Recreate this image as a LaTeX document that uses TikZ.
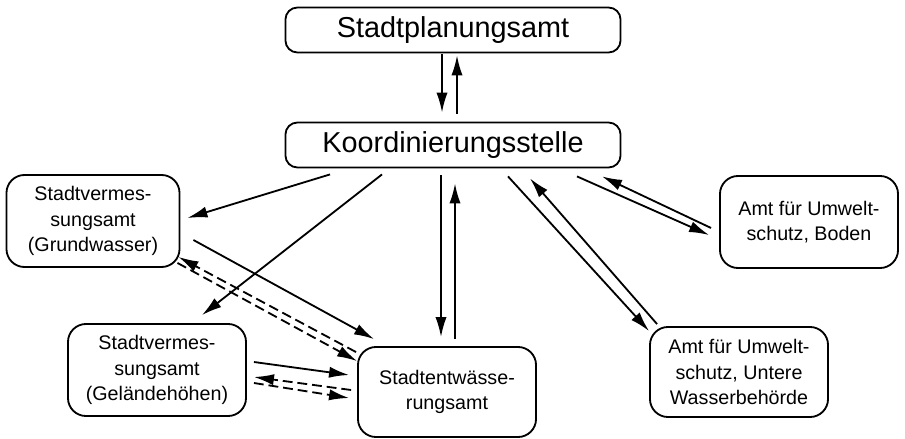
\documentclass[tikz,border=0pt]{standalone}
\usepackage{fontspec}
\setmainfont{Liberation Sans}
\usetikzlibrary{arrows.meta,calc}
\begin{document}
\begin{tikzpicture}[x=0.025cm,y=-0.025cm,>={Latex[length=0.5cm,width=0.28cm]},line width=1.3pt,
		bigbox/.style={draw,rounded corners=0.3cm,minimum width=8.375cm,minimum height=1.125cm,font=\fontsize{20.5}{24}\selectfont},
		smallbox/.style={draw,rounded corners=0.45cm,minimum width=4.45cm,minimum height=2.3cm,align=center,font=\fontsize{14}{18}\selectfont},
		dashline/.style={dash pattern=on 7pt off 3.5pt}]
		\useasboundingbox (0,0) rectangle (905,439);
		\node[bigbox] (plan) at (453,30) {Stadtplanungsamt};
		\node[bigbox] (koord) at (453,145) {Koordinierungsstelle};
		\node[smallbox,minimum width=4.325cm] (grund) at (93,221) {Stadtvermes-\\sungsamt\\(Grundwasser)};
		\node[smallbox] (gelaende) at (157,370) {Stadtvermes-\\sungsamt\\(Geländehöhen)};
		\node[smallbox,minimum height=2.25cm] (entw) at (447,392) {Stadtentwässe-\\rungsamt};
		\node[smallbox] (boden) at (809,222) {Amt für Umwelt-\\schutz, Boden};
		\node[smallbox,minimum height=2.25cm] (wasser) at (739,372) {Amt für Umwelt-\\schutz, Untere\\Wasserbehörde};
		% Stadtplanungsamt <-> Koordinierungsstelle
		\draw[->] ($(plan.south)+(-11,1)$) -- ($(koord.north)+(-11,-9)$);
		\draw[->] ($(koord.north)+(4,-8)$) -- ($(plan.south)+(4,2)$);
		% Koordinierungsstelle -> Aemter
		\draw[->] ($(koord.south)+(-123,6)$) -- ($(grund.east)+(7,-3)$);
		\draw[->] ($(koord.south)+(-71,6)$) -- ($(gelaende.north)+(45,-8)$);
		\draw[->] ($(koord.south)+(-12,7)$) -- ($(entw.north)+(-6,-9)$);
		\draw[->] ($(entw.north)+(8,-7)$) -- ($(koord.south)+(2,15)$);
		\draw[->] ($(koord.south)+(124,8)$) -- ($(boden.west)+(-10,13)$);
		\draw[->] ($(boden.west)+(-8,6)$) -- ($(koord.south)+(149,8)$);
		\draw[->] ($(koord.south)+(55,8)$) -- ($(wasser.north west)+(0,5)$);
		\draw[->] ($(wasser.north west)+(8,-2)$) -- ($(koord.south)+(77,10)$);
		% Stadtvermessungsamt <-> Stadtentwaesserungsamt
		\draw[->] ($(grund.east)+(13,19)$) -- ($(entw.north west)+(17,-7)$);
		\draw[->,dashline] ($(entw.north west)+(-1,6)$) -- ($(grund.south east)+(-2,-11)$);
		\draw[->,dashline] ($(grund.south east)+(-3,-5)$) -- ($(entw.north west)+(0,15)$);
		\draw[->] ($(gelaende.east)+(7,-8)$) -- ($(entw.west)+(-8,-17)$);
		\draw[->,dashline] ($(entw.west)+(-6,-2)$) -- ($(gelaende.east)+(7,7)$);
		\draw[->,dashline] ($(gelaende.east)+(7,13)$) -- ($(entw.west)+(-8,6)$);
	\end{tikzpicture}
\end{document}
